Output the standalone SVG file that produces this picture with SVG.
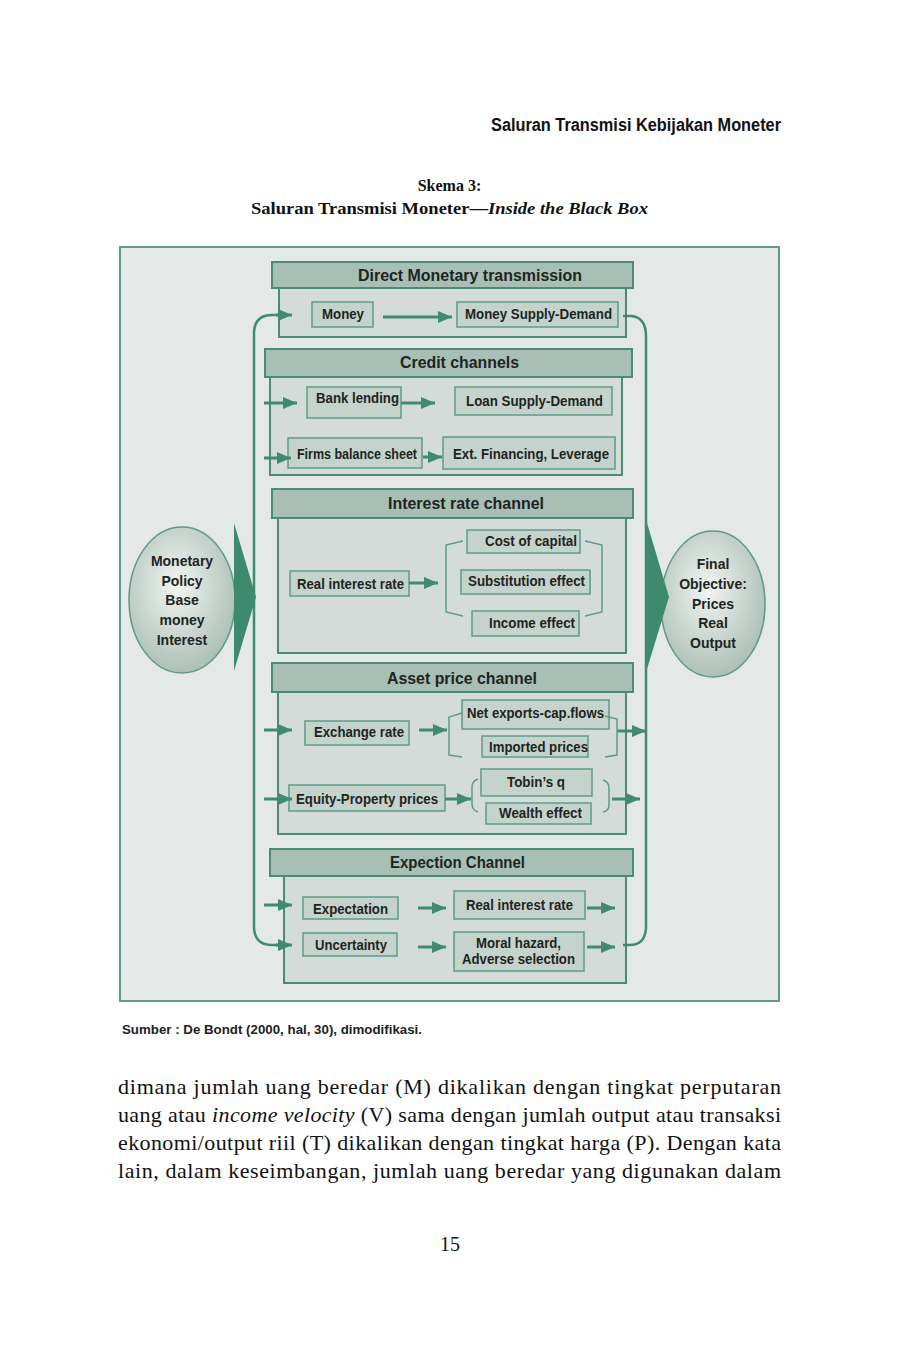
<svg xmlns="http://www.w3.org/2000/svg" width="898" height="1346" viewBox="0 0 898 1346">
<defs>
<style>
.hdr{fill:#a8bfb5;stroke:#4b8b75;stroke-width:2}
.pnl{fill:#d3dcd8;stroke:#4b8b75;stroke-width:2}
.box{fill:#c4d3cc;stroke:#5f9a86;stroke-width:1.5}
.t{font-family:"Liberation Sans",Arial,sans-serif;font-weight:bold;font-size:14px;fill:#1e2422}
.th{font-family:"Liberation Sans",Arial,sans-serif;font-weight:bold;font-size:16.5px;fill:#1e2422}
.ar{stroke:#3f8a70;stroke-width:3;fill:none;marker-end:url(#ah)}
.cv{stroke:#3f8a70;stroke-width:2.5;fill:none}
.br{stroke:#5f9a86;stroke-width:1.5;fill:none}
.serif{font-family:"Liberation Serif","Times New Roman",serif;fill:#111}
</style>
<marker id="ah" markerWidth="14" markerHeight="12" refX="14" refY="6" orient="auto" markerUnits="userSpaceOnUse"><path d="M0,0 L14,6 L0,12 z" fill="#3f8a70"/></marker>
<radialGradient id="eg" cx="0.45" cy="0.4" r="0.65"><stop offset="0" stop-color="#f2f5f3"/><stop offset="1" stop-color="#a7bcb2"/></radialGradient>
</defs>
<rect width="898" height="1346" fill="#ffffff"/>

<g id="page-header">
<text x="491" y="131" textLength="290" lengthAdjust="spacingAndGlyphs" style="font-family:'Liberation Sans',Arial,sans-serif;font-weight:bold;font-size:18px;fill:#111">Saluran Transmisi Kebijakan Moneter</text>
<text x="449.5" y="191" text-anchor="middle" class="serif" style="font-weight:bold;font-size:16px">Skema 3:</text>
<text x="251" y="214" textLength="397" lengthAdjust="spacingAndGlyphs" class="serif" style="font-weight:bold;font-size:16px">Saluran Transmisi Moneter—<tspan font-style="italic">Inside the Black Box</tspan></text>
</g>

<rect id="frame" x="120" y="247" width="659" height="754" fill="#e4e8e6" stroke="#5f9c86" stroke-width="2"/>

<g id="monetary-policy">
<ellipse cx="182" cy="600" rx="53" ry="73" fill="url(#eg)" stroke="#5f9a86" stroke-width="1.5"/>
<polygon points="234,523 256,597 234,671" fill="#3d8a6f"/>
<text class="t" text-anchor="middle" x="182" y="566">Monetary</text>
<text class="t" text-anchor="middle" x="182" y="586">Policy</text>
<text class="t" text-anchor="middle" x="182" y="605">Base</text>
<text class="t" text-anchor="middle" x="182" y="625">money</text>
<text class="t" text-anchor="middle" x="182" y="645">Interest</text>
</g>

<g id="final-objective">
<ellipse cx="713" cy="604" rx="52" ry="73" fill="url(#eg)" stroke="#5f9a86" stroke-width="1.5"/>
<polygon points="647,523 669,597 647,669" fill="#3d8a6f"/>
<text class="t" text-anchor="middle" x="713" y="569">Final</text>
<text class="t" text-anchor="middle" x="713" y="589">Objective:</text>
<text class="t" text-anchor="middle" x="713" y="609">Prices</text>
<text class="t" text-anchor="middle" x="713" y="628">Real</text>
<text class="t" text-anchor="middle" x="713" y="648">Output</text>
</g>

<g id="direct-monetary">
<rect class="pnl" x="279" y="288" width="347" height="49"/>
<rect class="hdr" x="272" y="262" width="361" height="26"/>
<text class="th" x="358" y="281" textLength="224" lengthAdjust="spacingAndGlyphs">Direct Monetary transmission</text>
<rect class="box" x="312" y="302" width="61" height="25"/>
<text class="t" x="322" y="319" textLength="42" lengthAdjust="spacingAndGlyphs">Money</text>
<rect class="box" x="457" y="302" width="161" height="25"/>
<text class="t" x="465" y="319" textLength="147" lengthAdjust="spacingAndGlyphs">Money Supply-Demand</text>
</g>

<g id="credit-channels">
<rect class="pnl" x="270" y="377" width="352" height="98"/>
<rect class="hdr" x="265" y="349" width="367" height="28"/>
<text class="th" x="400" y="368" textLength="119" lengthAdjust="spacingAndGlyphs">Credit channels</text>
<rect class="box" x="307" y="387" width="94" height="31"/>
<text class="t" x="316" y="403" textLength="83" lengthAdjust="spacingAndGlyphs">Bank lending</text>
<rect class="box" x="455" y="387" width="157" height="28"/>
<text class="t" x="466" y="406" textLength="137" lengthAdjust="spacingAndGlyphs">Loan Supply-Demand</text>
<rect class="box" x="288" y="438" width="134" height="30"/>
<text class="t" x="297" y="459" textLength="120" lengthAdjust="spacingAndGlyphs">Firms balance sheet</text>
<rect class="box" x="443" y="437" width="172" height="32"/>
<text class="t" x="453" y="459" textLength="156" lengthAdjust="spacingAndGlyphs">Ext. Financing, Leverage</text>
</g>

<g id="interest-rate-channel">
<rect class="pnl" x="278" y="518" width="348" height="135"/>
<rect class="hdr" x="272" y="489" width="361" height="29"/>
<text class="th" x="388" y="509" textLength="156" lengthAdjust="spacingAndGlyphs">Interest rate channel</text>
<rect class="box" x="290" y="571" width="119" height="25"/>
<text class="t" x="297" y="589" textLength="107" lengthAdjust="spacingAndGlyphs">Real interest rate</text>
<rect class="box" x="467" y="530" width="113" height="23"/>
<text class="t" x="485" y="546" textLength="92" lengthAdjust="spacingAndGlyphs">Cost of capital</text>
<rect class="box" x="461" y="570" width="129" height="24"/>
<text class="t" x="468" y="586" textLength="117" lengthAdjust="spacingAndGlyphs">Substitution effect</text>
<rect class="box" x="472" y="611" width="107" height="25"/>
<text class="t" x="489" y="628" textLength="86" lengthAdjust="spacingAndGlyphs">Income effect</text>
</g>

<g id="asset-price-channel">
<rect class="pnl" x="278" y="692" width="348" height="142"/>
<rect class="hdr" x="272" y="663" width="361" height="29"/>
<text class="th" x="387" y="684" textLength="150" lengthAdjust="spacingAndGlyphs">Asset price channel</text>
<rect class="box" x="305" y="721" width="104" height="24"/>
<text class="t" x="314" y="737" textLength="90" lengthAdjust="spacingAndGlyphs">Exchange rate</text>
<rect class="box" x="462" y="700" width="147" height="29"/>
<text class="t" x="467" y="718" textLength="137" lengthAdjust="spacingAndGlyphs">Net exports-cap.flows</text>
<rect class="box" x="482" y="736" width="106" height="21"/>
<text class="t" x="489" y="752" textLength="99" lengthAdjust="spacingAndGlyphs">Imported prices</text>
<rect class="box" x="289" y="785" width="156" height="26"/>
<text class="t" x="296" y="804" textLength="142" lengthAdjust="spacingAndGlyphs">Equity-Property prices</text>
<rect class="box" x="481" y="769" width="111" height="27"/>
<text class="t" x="507" y="787" textLength="58" lengthAdjust="spacingAndGlyphs">Tobin’s q</text>
<rect class="box" x="486" y="803" width="105" height="21"/>
<text class="t" x="499" y="818" textLength="83" lengthAdjust="spacingAndGlyphs">Wealth effect</text>
</g>

<g id="expectation-channel">
<rect class="pnl" x="284" y="876" width="342" height="107"/>
<rect class="hdr" x="270" y="849" width="363" height="27"/>
<text class="th" x="390" y="868" textLength="135" lengthAdjust="spacingAndGlyphs">Expection Channel</text>
<rect class="box" x="303" y="897" width="95" height="22"/>
<text class="t" x="313" y="914" textLength="75" lengthAdjust="spacingAndGlyphs">Expectation</text>
<rect class="box" x="454" y="891" width="131" height="28"/>
<text class="t" x="466" y="910" textLength="107" lengthAdjust="spacingAndGlyphs">Real interest rate</text>
<rect class="box" x="303" y="933" width="94" height="23"/>
<text class="t" x="315" y="950" textLength="72" lengthAdjust="spacingAndGlyphs">Uncertainty</text>
<rect class="box" x="454" y="932" width="130" height="39"/>
<text class="t" x="476" y="948" textLength="85" lengthAdjust="spacingAndGlyphs">Moral hazard,</text>
<text class="t" x="462" y="964" textLength="113" lengthAdjust="spacingAndGlyphs">Adverse selection</text>
</g>

<g id="connectors">
<path class="cv" d="M254,620 L254,332 Q255,315 272,315 L278,315"/>
<path class="ar" d="M276,315 L292,315"/>
<path class="cv" d="M254,620 L254,928 Q255,945 272,945 L278,945"/>
<path class="ar" d="M276,945 L292,945"/>
<path class="cv" d="M623,316 L632,316 Q646,318 646,336 L646,928 Q645,945 630,945 L623,945"/>
<path class="ar" d="M383,317 L452,317"/>
<path class="ar" d="M264,403 L297,403"/>
<path class="ar" d="M401,403 L435,403"/>
<path class="ar" d="M264,458 L291,458"/>
<path class="ar" d="M423,457 L442,457"/>
<path class="ar" d="M409,583 L438,583"/>
<path class="ar" d="M264,730 L292,730"/>
<path class="ar" d="M419,730 L447,730"/>
<path class="ar" d="M617,731 L646,731"/>
<path class="ar" d="M264,799 L292,799"/>
<path class="ar" d="M445,799 L471,799"/>
<path class="ar" d="M612,799 L640,799"/>
<path class="ar" d="M264,905 L292,905"/>
<path class="ar" d="M418,908 L446,908"/>
<path class="ar" d="M587,908 L615,908"/>
<path class="ar" d="M418,947 L446,947"/>
<path class="ar" d="M587,947 L615,947"/>
<path class="br" d="M463,541 L446,545 L446,612 L463,616"/>
<path class="br" d="M585,541 L602,545 L602,612 L585,616"/>
<path class="br" d="M462,713 L449,717 L449,755 L462,757"/>
<path class="br" d="M605,716 L617,719 L617,755 L605,757"/>
<path class="br" d="M478,779 Q472,781 472,787 L472,804 Q472,810 478,812"/>
<path class="br" d="M603,780 Q609,782 609,788 L609,805 Q609,811 603,812"/>
</g>

<g id="source-and-text">
<text x="122" y="1034" textLength="300" lengthAdjust="spacingAndGlyphs" style="font-family:'Liberation Sans',Arial,sans-serif;font-weight:bold;font-size:13px;fill:#222">Sumber : De Bondt (2000, hal, 30), dimodifikasi.</text>
<text class="serif" x="118" y="1094" textLength="663" lengthAdjust="spacing" style="font-size:22px">dimana jumlah uang beredar (M) dikalikan dengan tingkat perputaran</text>
<text class="serif" x="118" y="1122" textLength="663" lengthAdjust="spacing" style="font-size:22px">uang atau <tspan font-style="italic">income velocity</tspan> (V) sama dengan jumlah output atau transaksi</text>
<text class="serif" x="118" y="1150" textLength="663" lengthAdjust="spacing" style="font-size:22px">ekonomi/output riil (T) dikalikan dengan tingkat harga (P). Dengan kata</text>
<text class="serif" x="118" y="1178" textLength="663" lengthAdjust="spacing" style="font-size:22px">lain, dalam keseimbangan, jumlah uang beredar yang digunakan dalam</text>
<text class="serif" x="450" y="1251" text-anchor="middle" style="font-size:20px">15</text>
</g>
</svg>
